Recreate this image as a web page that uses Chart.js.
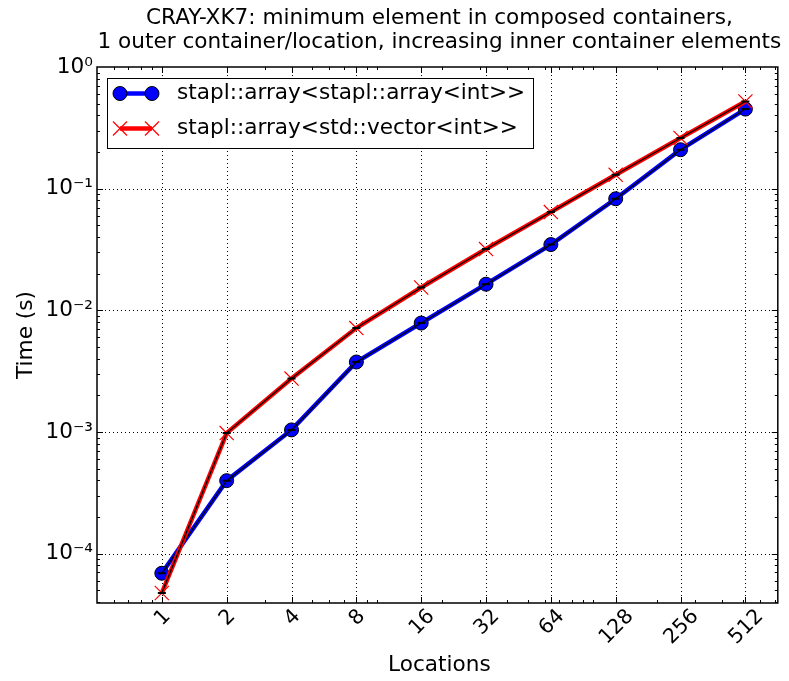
<!DOCTYPE html>
<html>
<head>
<meta charset="utf-8">
<script src="https://cdn.jsdelivr.net/npm/chart.js@4.4.0/dist/chart.umd.min.js"></script>
<style>
html, body { margin: 0; padding: 0; background: #fff; }
</style>
</head>
<body>
<canvas id="chart" width="789" height="681"></canvas>
<script>
// minimum element timings, seconds per location count
const locations = [1, 2, 4, 8, 16, 32, 64, 128, 256, 512];
const nestedArrayTime = [6.9e-5, 3.98e-4, 1.04e-3, 3.76e-3, 7.86e-3, 1.64e-2, 3.47e-2, 8.26e-2, 0.209, 0.451];
const vectorTime = [4.75e-5, 9.8e-4, 2.75e-3, 7.15e-3, 1.54e-2, 3.19e-2, 6.42e-2, 0.130, 0.261, 0.521];
const seriesLabels = ['stapl::array<stapl::array<int>>', 'stapl::array<std::vector<int>>'];
const yTickValues = [1e-4, 1e-3, 1e-2, 1e-1, 1];
const titleLines = ['CRAY-XK7: minimum element in composed containers,', '1 outer container/location, increasing inner container elements'];
const xTitle = 'Locations';
const yTitle = 'Time (s)';

const FONT = '"DejaVu Sans", sans-serif';
const FONT_PX = 21.6;
const SUP = {'-': '\u207B', '0': '\u2070', '1': '\u00B9', '2': '\u00B2', '3': '\u00B3', '4': '\u2074', '5': '\u2075'};

function pow10Label(v) {
	var e = String(Math.round(Math.log10(v)));
	return '10' + e.split('').map(c => SUP[c]).join('');
}

function toPoints(values) {
	// x axis is log2 of the location count
	return locations.map((l, i) => ({x: Math.log2(l), y: values[i]}));
}

function line(ctx, x1, y1, x2, y2) {
	ctx.beginPath();
	ctx.moveTo(x1, y1);
	ctx.lineTo(x2, y2);
	ctx.stroke();
}

const axesDecor = {
	id: 'axesDecor',
	beforeDatasetsDraw(chart) {
		const {ctx, chartArea: a, scales: {x, y}} = chart;
		ctx.save();
		ctx.strokeStyle = '#000';
		ctx.lineWidth = 1;
		ctx.setLineDash([1, 3]);
		locations.forEach(l => {
			var px = Math.round(x.getPixelForValue(Math.log2(l))) + 0.5;
			line(ctx, px, a.top, px, a.bottom);
		});
		yTickValues.forEach(v => {
			var py = Math.round(y.getPixelForValue(v)) + 0.5;
			if (py > a.top + 2 && py < a.bottom - 2) line(ctx, a.left, py, a.right, py);
		});
		ctx.restore();
	},
	afterDatasetsDraw(chart) {
		const {ctx, chartArea: a, scales: {x, y}} = chart;
		ctx.save();
		ctx.strokeStyle = '#000';
		ctx.lineWidth = 1;

		// ticks point inward, on all four sides
		var xMin = Math.pow(2, x.min), xMax = Math.pow(2, x.max);
		for (var k = -1; k <= 3; k++) {
			for (var n = 1; n <= 9; n++) {
				var v = n * Math.pow(10, k);
				if (v <= xMin || v >= xMax) continue;
				var px = Math.round(x.getPixelForValue(Math.log2(v))) + 0.5;
				line(ctx, px, a.bottom, px, a.bottom - 3);
				line(ctx, px, a.top, px, a.top + 3);
			}
		}
		locations.forEach(l => {
			var px = Math.round(x.getPixelForValue(Math.log2(l))) + 0.5;
			line(ctx, px, a.bottom, px, a.bottom - 6);
			line(ctx, px, a.top, px, a.top + 6);
		});
		for (var k = -5; k <= 0; k++) {
			for (var n = 1; n <= 9; n++) {
				var v = n * Math.pow(10, k);
				if (v <= y.min || v >= y.max) continue;
				var py = Math.round(y.getPixelForValue(v)) + 0.5;
				var len = n === 1 ? 6 : 3;
				line(ctx, a.left, py, a.left + len, py);
				line(ctx, a.right, py, a.right - len, py);
			}
		}

		ctx.lineWidth = 1.5;
		ctx.strokeRect(a.left, a.top, a.right - a.left, a.bottom - a.top);

		// legend in the upper left corner
		var lx = 107, ly = 78, lw = 426, lh = 70;
		ctx.fillStyle = '#fff';
		ctx.fillRect(lx, ly, lw, lh);
		ctx.lineWidth = 1;
		ctx.strokeRect(lx + 0.5, ly + 0.5, lw, lh);
		var rows = [93.5, 128.5];
		var x1 = 120, x2 = 152;

		ctx.strokeStyle = '#0000ff';
		ctx.lineWidth = 4.5;
		line(ctx, x1, rows[0], x2, rows[0]);
		[x1, x2].forEach(cx => {
			ctx.beginPath();
			ctx.arc(cx, rows[0], 7, 0, Math.PI * 2);
			ctx.fillStyle = '#0000ff';
			ctx.fill();
			ctx.lineWidth = 1;
			ctx.strokeStyle = '#000';
			ctx.stroke();
		});

		ctx.strokeStyle = '#ff0000';
		ctx.lineWidth = 4.5;
		line(ctx, x1, rows[1], x2, rows[1]);
		ctx.lineWidth = 1.2;
		[x1, x2].forEach(cx => {
			line(ctx, cx - 7, rows[1] - 7, cx + 7, rows[1] + 7);
			line(ctx, cx - 7, rows[1] + 7, cx + 7, rows[1] - 7);
		});

		ctx.fillStyle = '#000';
		ctx.font = FONT_PX + 'px ' + FONT;
		ctx.textAlign = 'left';
		ctx.textBaseline = 'middle';
		ctx.fillText(seriesLabels[0], 177, rows[0]);
		ctx.fillText(seriesLabels[1], 177, rows[1]);
		ctx.restore();
	},
	afterDraw(chart) {
		const {ctx, chartArea: a, scales: {x}} = chart;
		var cx = (a.left + a.right) / 2;
		ctx.save();
		ctx.fillStyle = '#000';

		ctx.font = FONT_PX + 'px ' + FONT;
		ctx.textAlign = 'center';
		ctx.textBaseline = 'alphabetic';
		ctx.fillText(titleLines[0], cx + 2, 24);
		ctx.fillText(titleLines[1], cx + 2, 48);

		ctx.textBaseline = 'middle';
		ctx.fillText(xTitle, cx + 2, 665);
		ctx.save();
		ctx.translate(26, (a.top + a.bottom) / 2);
		ctx.rotate(-Math.PI / 2);
		ctx.fillText(yTitle, 0, 0);
		ctx.restore();

		// rotated location labels, box centred under each tick
		ctx.font = '20.5px ' + FONT;
		locations.forEach(l => {
			var px = x.getPixelForValue(Math.log2(l));
			var w = ctx.measureText(String(l)).width;
			var h = (w + 18) * Math.SQRT1_2;
			ctx.save();
			ctx.translate(px + 1, a.bottom + 4 + h / 2);
			ctx.rotate(-Math.PI / 4);
			ctx.fillText(String(l), 0, 0);
			ctx.restore();
		});
		ctx.restore();
	}
};

new Chart(document.getElementById('chart'), {
	type: 'line',
	data: {
		datasets: [
			{
				label: seriesLabels[0],
				data: toPoints(nestedArrayTime),
				borderColor: '#0000ff',
				borderWidth: 4.5,
				pointStyle: 'circle',
				pointRadius: 7,
				pointBackgroundColor: '#0000ff',
				pointBorderColor: '#000',
				pointBorderWidth: 1,
				order: 4
			},
			{
				label: seriesLabels[0],
				data: toPoints(nestedArrayTime),
				borderColor: '#000',
				borderWidth: 1.3,
				pointStyle: 'line',
				pointRadius: 4,
				pointBorderColor: '#000',
				pointBorderWidth: 2,
				order: 3
			},
			{
				label: seriesLabels[1],
				data: toPoints(vectorTime),
				borderColor: '#ff0000',
				borderWidth: 4.5,
				pointStyle: 'crossRot',
				pointRadius: 10,
				pointBackgroundColor: '#ff0000',
				pointBorderColor: '#ff0000',
				pointBorderWidth: 1.2,
				order: 2
			},
			{
				label: seriesLabels[1],
				data: toPoints(vectorTime),
				borderColor: '#000',
				borderWidth: 1.3,
				pointStyle: 'line',
				pointRadius: 4,
				pointBorderColor: '#000',
				pointBorderWidth: 2,
				order: 1
			}
		]
	},
	options: {
		responsive: false,
		animation: false,
		devicePixelRatio: 1,
		layout: {padding: {top: 67, right: 6, left: 0, bottom: 0}},
		plugins: {legend: {display: false}, tooltip: {enabled: false}},
		elements: {line: {tension: 0}},
		scales: {
			x: {
				type: 'linear',
				min: -1,
				max: 9.5,
				grid: {display: false, drawTicks: false},
				border: {display: false},
				ticks: {display: false},
				afterFit(s) { s.height = 78; }
			},
			y: {
				type: 'logarithmic',
				min: 3.93e-5,
				max: 1,
				grid: {display: false, drawTicks: false},
				border: {display: false},
				ticks: {
					padding: 4,
					color: '#000',
					font: {family: 'DejaVu Sans', size: FONT_PX},
					callback: v => pow10Label(v)
				},
				afterBuildTicks(s) { s.ticks = yTickValues.map(v => ({value: v})); },
				afterFit(s) { s.width = 97; }
			}
		}
	},
	plugins: [axesDecor]
});
</script>
</body>
</html>
